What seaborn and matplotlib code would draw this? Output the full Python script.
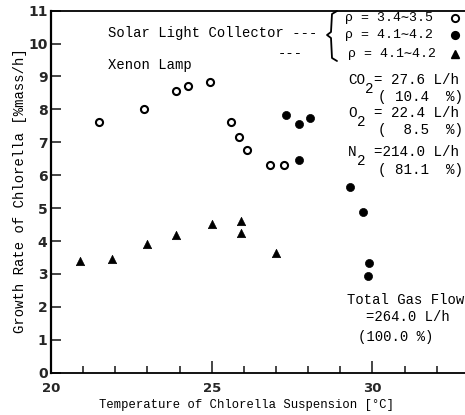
import matplotlib
matplotlib.use("Agg")
import matplotlib.pyplot as plt
from matplotlib.lines import Line2D
from matplotlib.ticker import MultipleLocator
import seaborn as sns
import pandas as pd

# ---- data ----
open_x = [21.5, 22.9, 23.9, 24.25, 24.95, 25.6, 25.85, 26.1, 26.8, 27.25]
open_y = [7.62, 8.02, 8.57, 8.70, 8.82, 7.62, 7.15, 6.78, 6.32, 6.32]
filled_x = [27.3, 27.7, 28.05, 27.7, 29.3, 29.7, 29.9, 29.85]
filled_y = [7.83, 7.56, 7.74, 6.45, 5.65, 4.88, 3.33, 2.95]
tri_x = [20.9, 21.9, 23.0, 23.9, 25.0, 25.9, 25.9, 27.0]
tri_y = [3.40, 3.46, 3.91, 4.17, 4.51, 4.62, 4.24, 3.64]

x_major = [20, 25, 30]
y_major = list(range(0, 12))
xlabel = "Temperature of Chlorella Suspension [°C]"
ylabel = "Growth Rate of Chlorella [%mass/h]"

sns.set_style("ticks")
plt.rcParams["font.family"] = ["Liberation Mono", "DejaVu Sans Mono", "DejaVu Sans"]

W, H = 465, 415
fig = plt.figure(figsize=(W / 100, H / 100), dpi=100, facecolor="white")
ax = fig.add_axes([51 / W, (H - 372.7) / H, (W - 51) / W, 362.1 / H])
ax.set_facecolor("white")

df_open = pd.DataFrame({"x": open_x, "y": open_y})
df_fill = pd.DataFrame({"x": filled_x, "y": filled_y})
df_tri = pd.DataFrame({"x": tri_x, "y": tri_y})

sns.scatterplot(data=df_open, x="x", y="y", ax=ax, marker="o", s=26,
                facecolor="white", edgecolor="black", linewidth=1.5, zorder=3)
sns.scatterplot(data=df_fill, x="x", y="y", ax=ax, marker="o", s=34,
                color="black", edgecolor="black", linewidth=0.5, zorder=3)
sns.scatterplot(data=df_tri, x="x", y="y", ax=ax, marker="^", s=36,
                color="black", edgecolor="black", linewidth=0.5, zorder=3)

ax.set_xlim(20, 32.88)
ax.set_ylim(0, 11)
ax.set_xticks(x_major)
ax.set_xticklabels([str(v) for v in x_major])
ax.xaxis.set_minor_locator(MultipleLocator(1))
ax.set_yticks(y_major)
ax.set_yticklabels([str(v) for v in y_major])

ax.tick_params(axis="y", which="major", direction="in", length=7, width=1.2,
               pad=2.5, labelsize=10)
ax.tick_params(axis="x", which="major", direction="in", length=9, width=1.2,
               pad=7, labelsize=9.5)
ax.tick_params(axis="x", which="minor", direction="in", length=5, width=1.2)
for lab in ax.get_yticklabels():
    lab.set_fontfamily("DejaVu Sans")
    lab.set_fontweight("bold")
for lab in ax.get_xticklabels():
    lab.set_fontfamily("DejaVu Sans")
    lab.set_fontweight("semibold")

for side in ["left", "bottom", "top"]:
    ax.spines[side].set_color("black")
ax.spines["left"].set_linewidth(1.6)
ax.spines["bottom"].set_linewidth(1.3)
ax.spines["top"].set_linewidth(1.3)
ax.spines["right"].set_visible(False)

ax.set_xlabel(xlabel, fontsize=8.8, color="black", va="center")
ax.set_ylabel(ylabel, fontsize=10, color="black", va="center")
ax.xaxis.set_label_coords((246 - 51) / 414, (372.7 - 405) / 362.1)
ax.yaxis.set_label_coords((20 - 51) / 414, (372.7 - 191) / 362.1)


def P(x, y):
    return x / W, 1 - y / H


def T(x, y, s, size=10.3, ha="left", va="center"):
    fig.text(*P(x, y), s, fontsize=size, ha=ha, va=va, color="black")


T(108, 33, "Solar Light Collector ---", size=10)
T(108, 65, "Xenon Lamp", size=10)
T(278, 53, "---", size=10)

# brace
bx = [337, 332, 331, 327, 331, 332, 337]
by = [11, 14, 32, 35, 38, 58, 61]
fig.add_artist(Line2D([b / W for b in bx], [1 - b / H for b in by],
                      color="black", linewidth=1.3, transform=fig.transFigure))

T(345, 18, "ρ = 3.4∼3.5", size=9.5)
T(345, 35, "ρ = 4.1∼4.2", size=9.5)
T(348, 54, "ρ = 4.1∼4.2", size=9.5)
for yy, face in [(18, "white"), (35, "black")]:
    fig.add_artist(Line2D([455 / W], [1 - yy / H], marker="o", markersize=5.2,
                          markerfacecolor=face, markeredgecolor="black",
                          markeredgewidth=1.4, transform=fig.transFigure))
fig.add_artist(Line2D([455 / W], [1 - 54 / H], marker="^", markersize=5.5,
                      markerfacecolor="black", markeredgecolor="black",
                      transform=fig.transFigure))

cw = 8.6
T(348, 80, "CO")
T(348 + 2 * cw, 89, "2")
T(348 + 3 * cw, 80, "= 27.6 L/h")
T(463, 97, "( 10.4  %)", ha="right")
T(348, 113, "O")
T(348 + 1 * cw, 122, "2")
T(348 + 3 * cw, 113, "= 22.4 L/h")
T(463, 130, "(  8.5  %)", ha="right")
T(348, 152, "N")
T(348 + 1 * cw, 161, "2")
T(348 + 3 * cw, 152, "=214.0 L/h")
T(463, 170, "( 81.1  %)", ha="right")

T(347, 300, "Total Gas Flow", size=10)
T(366, 317, "=264.0 L/h", size=10)
T(358, 337, "(100.0 %)", size=10)

fig.savefig("out.png", dpi=100, facecolor="white")
